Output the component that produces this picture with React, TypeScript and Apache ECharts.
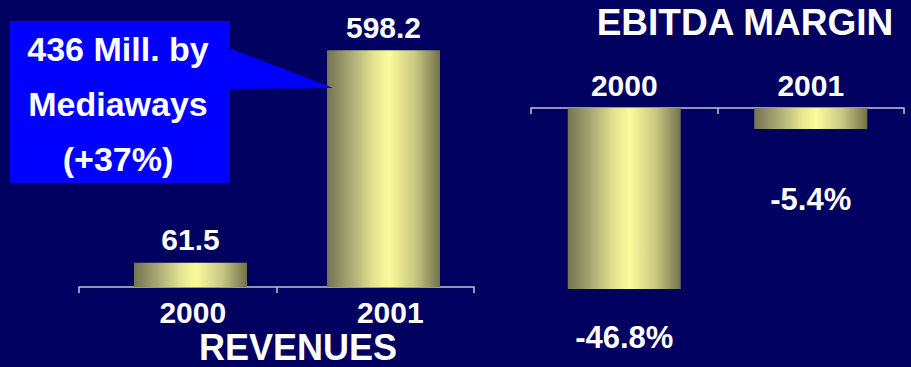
import React, { useEffect, useRef } from "react";
import * as echarts from "echarts";

// ---- data ----
const years = ["2000", "2001"];
const revenues = [61.5, 598.2];
const ebitdaMargin = [-46.8, -5.4];
const calloutLines = ["436 Mill. by", "Mediaways", "(+37%)"];
const revenueTitle = "REVENUES";
const ebitdaTitle = "EBITDA MARGIN";

// ---- styles ----
const BG = "#000060";
const FONT = '"Liberation Sans", Arial, Helvetica, sans-serif';
const AXIS_COLOR = "#c4c4d6";
const ebitdaLabelDistance = [33, 55];

const barGradient = () =>
  new echarts.graphic.LinearGradient(0, 0, 1, 0, [
    { offset: 0, color: "#747450" },
    { offset: 0.2, color: "#a6a672" },
    { offset: 0.42, color: "#e6e690" },
    { offset: 0.55, color: "#fbfb9c" },
    { offset: 0.78, color: "#c8c882" },
    { offset: 1, color: "#72724a" },
  ]);

export default function App() {
  const ref = useRef<HTMLDivElement>(null);

  useEffect(() => {
    if (!ref.current) return;
    const chart = echarts.init(ref.current, undefined, { renderer: "svg" });

    const option: any = {
      animation: false,
      backgroundColor: BG,
      grid: [
        { left: 94, width: 386, top: 10, height: 277 },
        { left: 79, width: 395, top: 10, height: 277 },
        { left: 531, width: 373, top: 108, height: 193.4 },
      ],
      xAxis: [
        {
          gridIndex: 0,
          type: "category",
          data: years,
          show: false,
        },
        {
          gridIndex: 1,
          type: "category",
          data: years,
          axisLine: { show: true, lineStyle: { color: AXIS_COLOR, width: 1.5 } },
          axisTick: { show: true, length: 6, lineStyle: { color: AXIS_COLOR, width: 1.5 } },
          axisLabel: {
            color: "#ffffff",
            fontFamily: FONT,
            fontWeight: "bold",
            fontSize: 30,
            margin: 10,
            padding: [0, 0, 0, 30],
          },
        },
        {
          gridIndex: 2,
          type: "category",
          data: years,
          position: "top",
          axisLine: { show: true, onZero: false, lineStyle: { color: AXIS_COLOR, width: 1.5 } },
          axisTick: { show: true, inside: true, length: 6, lineStyle: { color: AXIS_COLOR, width: 1.5 } },
          axisLabel: {
            color: "#ffffff",
            fontFamily: FONT,
            fontWeight: "bold",
            fontSize: 30,
            margin: 8,
          },
        },
      ],
      yAxis: [
        { gridIndex: 0, type: "value", min: 0, max: 700, show: false },
        { gridIndex: 1, type: "value", min: 0, max: 700, show: false },
        { gridIndex: 2, type: "value", min: -50, max: 0, show: false },
      ],
      series: [
        {
          type: "bar",
          xAxisIndex: 0,
          yAxisIndex: 0,
          barWidth: 113,
          data: revenues,
          itemStyle: { color: barGradient() },
          label: {
            show: true,
            position: "top",
            distance: 8,
            color: "#ffffff",
            fontFamily: FONT,
            fontWeight: "bold",
            fontSize: 30,
            formatter: (p: any) => String(p.value),
          },
        },
        {
          type: "bar",
          xAxisIndex: 2,
          yAxisIndex: 2,
          barWidth: 113,
          data: ebitdaMargin.map((v, i) => ({
            value: v,
            label: { distance: ebitdaLabelDistance[i] },
          })),
          itemStyle: { color: barGradient() },
          label: {
            show: true,
            position: "bottom",
            color: "#ffffff",
            fontFamily: FONT,
            fontWeight: "bold",
            fontSize: 31,
            formatter: (p: any) => Number(p.value).toFixed(1) + "%",
          },
        },
      ],
      graphic: [
        {
          type: "text",
          x: 745,
          y: 22,
          z: 10,
          style: {
            text: ebitdaTitle,
            fill: "#ffffff",
            font: `bold 37px ${FONT}`,
            align: "center",
            verticalAlign: "middle",
          },
        },
        {
          type: "text",
          x: 298,
          y: 347,
          z: 10,
          style: {
            text: revenueTitle,
            fill: "#ffffff",
            font: `bold 36px ${FONT}`,
            align: "center",
            verticalAlign: "middle",
          },
        },
        {
          type: "rect",
          z: 20,
          shape: { x: 10, y: 21, width: 220, height: 162 },
          style: { fill: "#0000ff" },
        },
        {
          type: "polygon",
          z: 20,
          shape: { points: [[229, 48], [333, 88], [229, 89]] },
          style: { fill: "#0000ff" },
        },
        {
          type: "text",
          x: 118,
          y: 104,
          z: 21,
          style: {
            text: calloutLines.join("\n"),
            fill: "#ffffff",
            font: `bold 34px ${FONT}`,
            lineHeight: 55,
            align: "center",
            verticalAlign: "middle",
          },
        },
      ],
    };

    chart.setOption(option);
    return () => chart.dispose();
  }, []);

  return (
    <div
      ref={ref}
      style={{
        position: "fixed",
        left: 0,
        top: 0,
        width: 911,
        height: 367,
        background: BG,
      }}
    />
  );
}
